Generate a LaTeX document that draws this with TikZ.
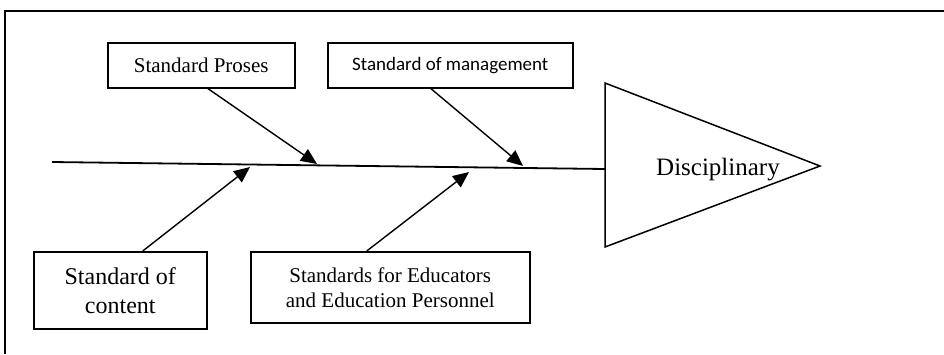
\documentclass[tikz,border=0pt]{standalone}
\usepackage{fontspec}
\setmainfont{Liberation Serif}
\newfontfamily\calib{Carlito}
\usetikzlibrary{arrows.meta}
\begin{document}
\begin{tikzpicture}[x=1pt,y=-1pt,
  box/.style={draw,line width=1.5pt,inner sep=0pt,align=center,anchor=north west},
  arr/.style={line width=1.4pt,-{Triangle[length=16pt,width=14pt]}},
  ln/.style={line width=1.5pt}]
\useasboundingbox (0,0) rectangle (944,354);
% outer frame (top and left sides visible)
\draw[ln] (944,11) -- (5,11) -- (5,354);
% boxes
\node[box,minimum width=187pt,minimum height=45pt,font=\fontsize{21}{25}\selectfont] (proses) at (107,42) {Standard Proses};
\node[box,minimum width=245pt,minimum height=45pt,font=\calib\fontsize{19}{23}\selectfont] (mgmt) at (327,42) {Standard of management};
\node[box,minimum width=173pt,minimum height=77pt,font=\fontsize{24}{29}\selectfont] (content) at (33,251) {Standard of\\content};
\node[box,minimum width=279pt,minimum height=71pt,font=\fontsize{21}{25}\selectfont] (edu) at (250,251) {Standards for Educators\\and Education Personnel};
% spine
\coordinate (s0) at (52,162);
\coordinate (s1) at (605,169);
\draw[line width=1.8pt] (s0) -- (s1);
% head triangle
\draw[ln] (605,83) -- (820,166) -- (605,247) -- cycle;
\node[font=\fontsize{25}{30}\selectfont,inner sep=0pt] (disc) at (718,170) {Disciplinary};
% arrow tips
\coordinate (t1) at (317,164);
\coordinate (t2) at (523,166);
\coordinate (t3) at (250,167);
\coordinate (t4) at (469,172);
\draw[arr] ([xshift=6.5pt]proses.south) -- (t1);
\draw[arr] ([xshift=-19.5pt]mgmt.south) -- (t2);
\draw[arr] ([xshift=22.5pt]content.north) -- (t3);
\draw[arr] ([xshift=-23.5pt]edu.north) -- (t4);
\end{tikzpicture}
\end{document}
